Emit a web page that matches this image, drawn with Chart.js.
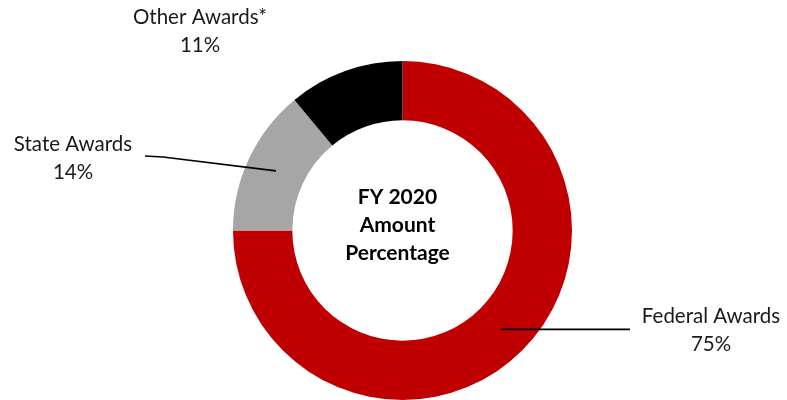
<!DOCTYPE html>
<html>
<head>
<meta charset="utf-8">
<script src="https://cdn.jsdelivr.net/npm/chart.js@4/dist/chart.umd.min.js"></script>
<style>
    body { margin: 0; background: #fff; }
    canvas { display: block; }
</style>
</head>
<body>
<canvas id="awardsChart" width="787" height="400"></canvas>
<script>
const categories = ['Federal Awards', 'State Awards', 'Other Awards*'];
const percentages = [75, 14, 11];
const sliceColors = ['#C00000', '#A6A6A6', '#000000'];
const centerLines = ['FY 2020', 'Amount', 'Percentage'];

// where each label sits, and whether a leader line runs to its slice
const labelLayout = [
    { x: 711, y: 316, lineFrom: 630, leader: true },
    { x: 73, y: 144, lineFrom: 145, leader: true },
    { x: 200, y: 17, leader: false }
];

const labelFont = '20.5px Lato, "Open Sans", sans-serif';
const centerFont = 'bold 21px Lato, "Open Sans", sans-serif';

const calloutPlugin = {
    id: 'callouts',
    afterDraw(chart) {
        const ctx = chart.ctx;
        const meta = chart.getDatasetMeta(0);
        ctx.save();
        ctx.textAlign = 'center';
        ctx.textBaseline = 'middle';
        ctx.fillStyle = '#1a1a1a';

        meta.data.forEach((arc, i) => {
            const layout = labelLayout[i];
            if (layout.leader) {
                const anchor = arc.tooltipPosition();
                ctx.beginPath();
                ctx.strokeStyle = '#000';
                ctx.lineWidth = 1.75;
                if (i === 1) {
                    ctx.moveTo(layout.lineFrom, layout.y + 12);
                    ctx.lineTo(layout.lineFrom + 18, layout.y + 13);
                } else {
                    ctx.moveTo(layout.lineFrom, anchor.y);
                }
                ctx.lineTo(anchor.x, anchor.y);
                ctx.stroke();
            }
            ctx.font = labelFont;
            ctx.fillText(categories[i], layout.x, layout.y);
            ctx.fillText(percentages[i] + '%', layout.x, layout.y + 28);
        });

        // text in the hole
        ctx.font = centerFont;
        ctx.fillStyle = '#000';
        const cx = (chart.chartArea.left + chart.chartArea.right) / 2 - 5;
        const cy = (chart.chartArea.top + chart.chartArea.bottom) / 2 - 5;
        centerLines.forEach((line, k) => {
            ctx.fillText(line, cx, cy + (k - 1) * 28);
        });
        ctx.restore();
    }
};

new Chart(document.getElementById('awardsChart').getContext('2d'), {
    type: 'doughnut',
    data: {
        labels: categories,
        datasets: [{
            data: percentages,
            backgroundColor: sliceColors,
            borderWidth: 0
        }]
    },
    options: {
        responsive: false,
        animation: false,
        cutout: '65%',
        layout: {
            padding: { top: 61, bottom: 0, left: 18, right: 0 }
        },
        plugins: {
            legend: { display: false },
            tooltip: { enabled: false }
        }
    },
    plugins: [calloutPlugin]
});
</script>
</body>
</html>
